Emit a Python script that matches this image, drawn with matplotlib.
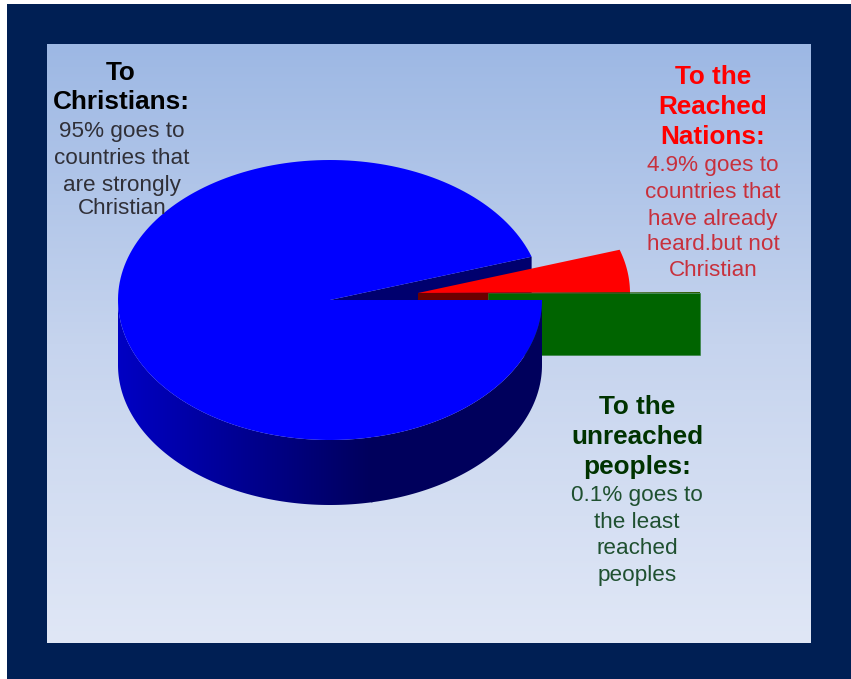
import numpy as np
import matplotlib
matplotlib.use("Agg")
import matplotlib.pyplot as plt
from matplotlib.patches import Polygon, Rectangle
from matplotlib.colors import LinearSegmentedColormap

plt.rcParams['font.family'] = ['Liberation Sans', 'DejaVu Sans']

# data
categories = ["To unreached peoples", "To the Reached Nations", "To Christians"]
shares = [0.1, 4.9, 95.0]
title_christians = ["To", "Christians:"]
body_christians = ["95% goes to", "countries that", "are strongly", "Christian"]
title_reached = ["To the", "Reached", "Nations:"]
body_reached = ["4.9% goes to", "countries that", "have already", "heard.but not", "Christian"]
title_unreached = ["To the", "unreached", "peoples:"]
body_unreached = ["0.1% goes to", "the least", "reached", "peoples"]

W, H = 851, 679
fig = plt.figure(figsize=(W / 100, H / 100), dpi=100, facecolor="white")
ax = fig.add_axes([0, 0, 1, 1])
ax.set_xlim(0, W)
ax.set_ylim(H, 0)
ax.axis("off")

NAVY = "#001F54"
ax.add_patch(Rectangle((7, 4), W - 7, H - 4, fc=NAVY, ec="none", zorder=0))

bg = LinearSegmentedColormap.from_list("bg", ["#9DB8E4", "#C6D4EE", "#E0E7F6"])
ax.imshow(np.linspace(0, 1, 256)[:, None], cmap=bg, extent=(47, 811, 643, 44),
          aspect="auto", zorder=1)

RX, RY, DEPTH = 212, 140, 65
CX, CY = 330, 300
degs = np.array(shares) / sum(shares) * 360
edges = np.concatenate([[0], np.cumsum(degs)])


def rim(cx, cy, a0, a1, n=200):
    t = np.radians(np.linspace(a0, a1, n))
    return np.column_stack([cx + RX * np.cos(t), cy - RY * np.sin(t)])


def top(cx, cy, a0, a1):
    return np.vstack([[cx, cy], rim(cx, cy, a0, a1)])


def face(cx, cy, a, depth):
    p = rim(cx, cy, a, a, 1)[0]
    return [(cx, cy), tuple(p), (p[0], p[1] + depth), (cx, cy + depth)]


# cut face of the big slice
ax.add_patch(Polygon(face(CX, CY, edges[2], DEPTH), fc="#00006E", ec="none", zorder=2))

# reached nations slice, pulled out
RED_C = (418, 293)
ax.add_patch(Polygon(face(*RED_C, edges[1], 62), fc="#6B0000", ec="none", zorder=3))
ax.add_patch(Polygon(top(*RED_C, edges[1], edges[2]), fc="#FF0000", ec="none", zorder=4))

# unreached slice, pulled out further
GREEN_C = (488, 293)
ax.add_patch(Polygon(face(*GREEN_C, edges[0], 62), fc="#006400", ec="#2E7D3A", lw=0.4, zorder=5))
ax.add_patch(Polygon(top(*GREEN_C, edges[0], edges[1]), fc="#2E5A00", ec="none", zorder=5))

# wall of the big slice with shading
front = rim(CX, CY, 180, 360)
wall = np.vstack([front, front[::-1] + [0, DEPTH]])
shade = LinearSegmentedColormap.from_list(
    "wall", [(0, "#0000C4"), (0.5, "#000090"), (1, "#00005C")])
im = ax.imshow(np.linspace(0, 1.0, 256)[None, :], cmap=shade,
               extent=(CX - RX, CX + RX * 0.2, CY + DEPTH + RY, CY), aspect="auto", zorder=6)
# dark remainder of the wall
rest = Rectangle((CX + RX * 0.2 - 1, CY), RX * 0.8 + 1, RY + DEPTH, fc="#00005C", ec="none", zorder=6)
ax.add_patch(rest)
wall_patch = Polygon(wall, transform=ax.transData, fc="none", ec="none", zorder=6)
ax.add_patch(wall_patch)
im.set_clip_path(wall_patch)
rest.set_clip_path(wall_patch)

# top of the big slice
ax.add_patch(Polygon(top(CX, CY, edges[2], edges[3]), fc="#0000FF", ec="none", zorder=7))


def block(x, ys, lines, **kw):
    for y, s in zip(ys, lines):
        ax.text(x, y, s, ha="center", va="center", zorder=8, **kw)


BOLD = dict(fontsize=18.8, fontweight="bold")
REG = dict(fontsize=16.2)
block(121, [73, 102], title_christians, color="#000000", **BOLD)
block(122, [131, 158, 185, 209], body_christians, color="#303038", **REG)
block(713, [77, 107, 137], title_reached, color="#FF0000", **BOLD)
block(713, [165, 192, 219, 245, 271], body_reached, color="#C8303C", **REG)
block(637, [407, 437, 467], title_unreached, color="#003300", **BOLD)
block(637, [495, 522, 548, 575], body_unreached, color="#1F5030", **REG)

ax.set_xlim(0, W)
ax.set_ylim(H, 0)
fig.savefig("out.png", dpi=100, facecolor="white")
